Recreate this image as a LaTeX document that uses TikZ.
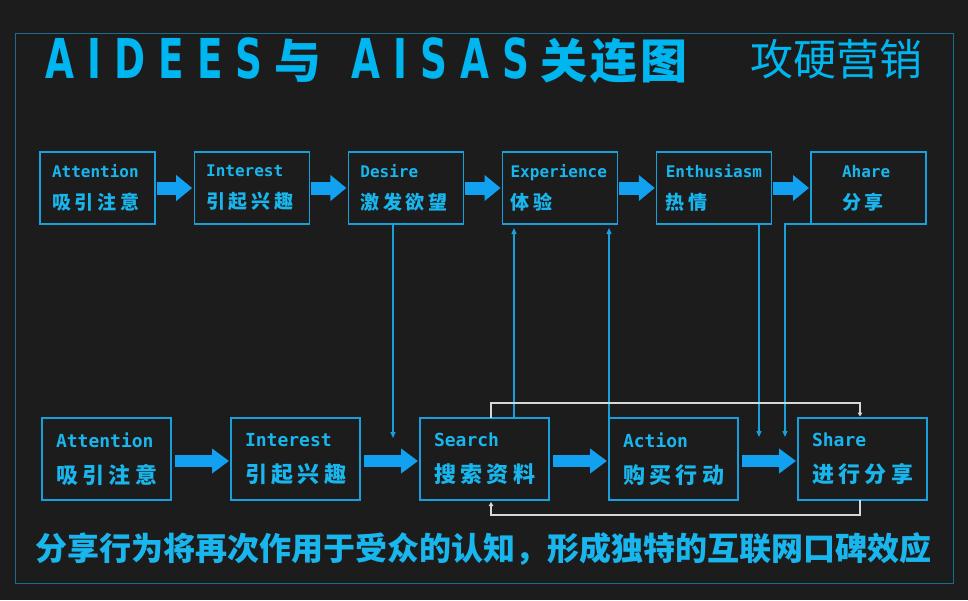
\documentclass[tikz,border=0pt]{standalone}
\usepackage{fontspec}
\usetikzlibrary{positioning,calc,arrows.meta}
\newfontfamily\cjkf{Noto Sans CJK SC}
\newfontfamily\cjkwide{Noto Sans CJK SC}[LetterSpace=20]
\newfontfamily\cjkhead{Noto Sans CJK SC}[LetterSpace=6]
\newfontfamily\monof{DejaVu Sans Mono}
\newfontfamily\headlat{DejaVu Sans}[LetterSpace=35]
\definecolor{bgc}{RGB}{28,28,28}
\definecolor{boxc}{RGB}{25,160,220}
\definecolor{txtc}{RGB}{25,182,238}
\definecolor{headc}{RGB}{0,182,240}
\definecolor{arrc}{RGB}{18,160,240}
\definecolor{framec}{RGB}{25,110,140}
\definecolor{backc}{RGB}{215,215,215}
\newcommand\headword[1]{\scalebox{0.68}[1]{\headlat\bfseries\fontsize{55}{55}\selectfont #1}}
\newcommand\lbl[2]{{\monof\bfseries #1}\\{\cjkwide\bfseries\fontsize{19}{32}\selectfont #2}}
\newcommand\lblb[2]{{\monof\bfseries #1}\\{\cjkwide\bfseries\fontsize{22}{36}\selectfont #2}}
\begin{document}
\begin{tikzpicture}[x=1pt,y=-1pt,
  stage/.style={rectangle, draw=boxc, line width=1.2pt, outer sep=0pt, text=txtc, align=left, inner ysep=0pt},
  upper/.style={stage, minimum width=115pt, minimum height=72pt, text width=91pt, inner xsep=12pt, font=\fontsize{16}{32}\selectfont},
  lower/.style={stage, minimum width=129pt, minimum height=82pt, text width=101pt, inner xsep=14pt, font=\fontsize{18}{36}\selectfont},
  flow/.style={draw=arrc, line width=13pt, -{Triangle[length=16pt,width=25pt]}, shorten <=1.5pt, shorten >=2pt},
  flowb/.style={draw=arrc, line width=12pt, -{Triangle[length=17pt,width=24pt]}, shorten <=4pt, shorten >=2pt},
  feed/.style={draw=boxc, line width=1.2pt, -{Triangle[length=6pt,width=5pt]}},
  ret/.style={draw=backc, line width=1.2pt, -{Triangle[length=4pt,width=4.5pt]}}
]
\useasboundingbox (0,0) rectangle (968,600);
\fill[bgc] (0,0) rectangle (968,600);
\draw[framec, line width=1pt] (15,33) rectangle (953,583);

\node[anchor=base west, inner sep=0pt, text=headc, font=\cjkf\bfseries\fontsize{47}{47}\selectfont] (head) at (45,78)
  {\headword{AIDEES}\hspace{12pt}{\cjkhead 与}\hspace{30pt}\headword{AISAS}\hspace{11pt}{\cjkhead 关连图}};
\node[anchor=base west, inner sep=0pt, text=headc, font=\cjkf\fontsize{43}{43}\selectfont] (brand) at (750,75) {攻硬营销};

\node[upper] (at1) at (97.5,188) {\lbl{Attention}{吸引注意}};
\node[upper, right=39.2pt of at1] (in1) {\lbl{Interest}{引起兴趣}};
\node[upper, right=39.2pt of in1] (de1) {\lbl{Desire}{激发欲望}};
\node[upper, right=39.2pt of de1, inner xsep=8pt, text width=99pt] (ex1) {\lbl{Experience}{体验}};
\node[upper, right=39.2pt of ex1, inner xsep=9pt, text width=97pt] (en1) {\lbl{Enthusiasm}{热情}};
\node[upper, right=39.2pt of en1, inner xsep=31pt, text width=53pt] (sh1) {\lbl{Ahare}{分享}};

\node[lower] (at2) at (106.5,459) {\lblb{Attention}{吸引注意}};
\node[lower, right=60pt of at2] (in2) {\lblb{Interest}{引起兴趣}};
\node[lower, right=60pt of in2] (se2) {\lblb{Search}{搜索资料}};
\node[lower, right=60pt of se2] (ac2) {\lblb{Action}{购买行动}};
\node[lower, right=60pt of ac2] (sh2) {\lblb{Share}{进行分享}};

\draw[flow] (at1.east) -- (in1.west);
\draw[flow] (in1.east) -- (de1.west);
\draw[flow] (de1.east) -- (ex1.west);
\draw[flow] (ex1.east) -- (en1.west);
\draw[flow] (en1.east) -- (sh1.west);

\draw[flowb] ([yshift=-2pt]at2.east) -- ([yshift=-2pt]in2.west);
\draw[flowb] ([yshift=-2pt]in2.east) -- ([yshift=-2pt]se2.west);
\draw[flowb] ([yshift=-2pt]se2.east) -- ([yshift=-2pt]ac2.west);
\draw[flowb] ([yshift=-2pt]ac2.east) -- ([yshift=-2pt]sh2.west);

\coordinate (dtip) at (393,438);
\coordinate (etip) at (759,437);
\coordinate (htip) at (785,437);
\coordinate (s1) at ($(se2.north)+(29.5,0)$);
\draw[feed] (de1.south -| dtip) -- (dtip);
\draw[feed, shorten >=4pt] (s1) -- (s1 |- ex1.south);
\draw[feed, shorten >=4pt] (ac2.north west) -- (ac2.north west |- ex1.south);
\draw[feed] (en1.south -| etip) -- (etip);
\draw[feed] (sh1.south west) -| (htip);

\coordinate (s2) at ($(se2.north)+(6.5,0)$);
\coordinate (s3) at ($(se2.south)+(6.5,0)$);
\draw[ret, shorten >=1.5pt] (s2) -- ++(0,-15) -| ([xshift=-2.5pt]sh2.north);
\draw[ret, shorten >=2pt] ([xshift=-2.5pt]sh2.south) -- ++(0,15) -| (s3);

\node[anchor=base, inner sep=0pt, text=txtc, font=\cjkf\bfseries\fontsize{32}{32}\selectfont] (note) at (483.5,560)
  {分享行为将再次作用于受众的认知，形成独特的互联网口碑效应};
\end{tikzpicture}
\end{document}
